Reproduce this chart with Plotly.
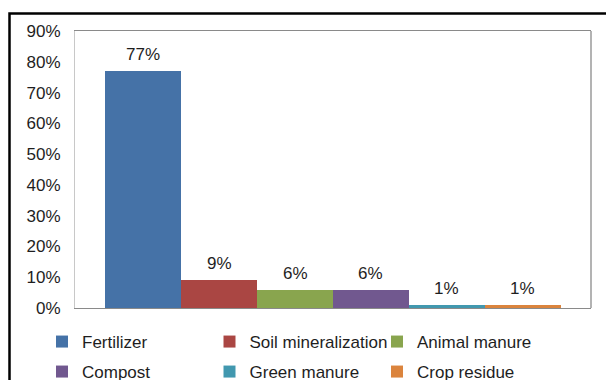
import plotly.graph_objects as go

categories = ["Fertilizer", "Soil mineralization", "Animal manure", "Compost", "Green manure", "Crop residue"]
values_pct = [77, 9, 6, 6, 1, 1]
colors = ["#4572A7", "#AA4643", "#89A54E", "#71588F", "#4198AF", "#DB843D"]
legend_rows = ["legend", "legend", "legend", "legend2", "legend2", "legend2"]

FONT = "Liberation Sans, Arial, sans-serif"
TXT = "#1e1e1e"

fig = go.Figure()
for cat, v, c, lg in zip(categories, values_pct, colors, legend_rows):
    fig.add_trace(go.Bar(
        x=[cat], y=[v / 100], name=cat, width=1,
        marker=dict(color=c, line=dict(width=0)),
        legend=lg, hoverinfo="skip",
    ))

for cat, v in zip(categories, values_pct):
    fig.add_annotation(
        x=cat, y=v / 100, text=f"{v}%", showarrow=False,
        yanchor="bottom", yshift=5,
        font=dict(family=FONT, size=17, color=TXT),
    )

W, H = 606, 380
ml, mr, mt, mb = 75, 15, 31, 72
pw, ph = W - ml - mr, H - mt - mb

def px_x(x):
    return (x - ml) / pw

def px_y(y):
    return (H - mb - y) / ph

# outer black frame (extends beyond the image at right/bottom)
fig.add_shape(type="rect", xref="paper", yref="paper",
              x0=px_x(9.5), x1=px_x(625), y0=px_y(400), y1=px_y(13.5),
              line=dict(color="black", width=2.5), layer="above")
# right edge of plot area
fig.add_shape(type="line", xref="paper", yref="paper",
              x0=1, x1=1, y0=0, y1=1,
              line=dict(color="#8a8a8a", width=1.3), layer="above")

fig.update_layout(
    width=W, height=H,
    margin=dict(l=ml, r=mr, t=mt, b=mb, autoexpand=False),
    paper_bgcolor="white", plot_bgcolor="white",
    barmode="overlay", bargap=0,
    font=dict(family=FONT, size=17, color=TXT),
    xaxis=dict(
        type="category", categoryorder="array", categoryarray=categories,
        range=[-0.9, 5.9], showticklabels=False, ticks="",
        showgrid=False, zeroline=False,
        showline=True, linecolor="#8a8a8a", linewidth=1.3, mirror=True,
    ),
    yaxis=dict(
        range=[0, 0.9], dtick=0.1, tick0=0, tickformat=".0%",
        showgrid=False, zeroline=False, ticks="",
        showline=True, linecolor="#c8c8c8", linewidth=1,
        ticklabelstandoff=10,
        tickfont=dict(family=FONT, size=17, color=TXT),
    ),
    legend=dict(
        orientation="h", x=px_x(42), xanchor="left", y=px_y(342), yanchor="middle",
        entrywidth=122.5, entrywidthmode="pixels",
        font=dict(family=FONT, size=17, color=TXT), bgcolor="rgba(0,0,0,0)",
        borderwidth=0,
    ),
    legend2=dict(
        orientation="h", x=px_x(42), xanchor="left", y=px_y(372), yanchor="middle",
        entrywidth=122.5, entrywidthmode="pixels",
        font=dict(family=FONT, size=17, color=TXT), bgcolor="rgba(0,0,0,0)",
        borderwidth=0,
    ),
    showlegend=True,
)

fig.write_html("out.html")
